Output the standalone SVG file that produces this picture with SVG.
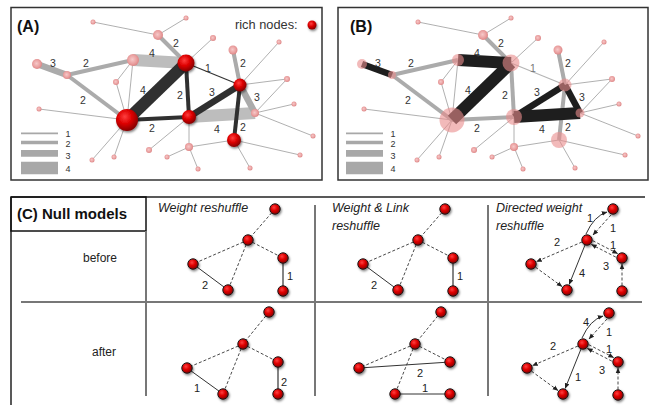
<svg xmlns="http://www.w3.org/2000/svg" width="652" height="405" viewBox="0 0 652 405">
<defs>
<style>
text{font-family:"Liberation Sans",Arial,sans-serif;fill:#333}
.ttl{font-size:16px;font-weight:bold;fill:#111}
.lbl{font-size:10.5px;text-anchor:middle}
.llbl{font-size:9px;text-anchor:middle}
.clbl{font-size:11px;text-anchor:middle;fill:#222}
.hdr{font-size:12.5px;font-style:italic;fill:#222}
.row{font-size:12px;fill:#222}
.box{fill:none;stroke:#333;stroke-width:1.5}
.grid{stroke:#777;stroke-width:2;fill:none}
.thin{stroke:#9c9c9c;stroke-width:0.8}
.gw2{stroke:#ababab;stroke-width:4}
.gw3{stroke:#ababab;stroke-width:6.5}
.gw4{stroke:#bdbdbd;stroke-width:12}
.dw1{stroke:#333;stroke-width:1.2}
.dw2{stroke:#303030;stroke-width:4}
.dw3{stroke:#303030;stroke-width:6.5}
.dw4{stroke:#303030;stroke-width:12}
.bw1{stroke:#b5b5b5;stroke-width:1.2}
.bd2{stroke:#1e1e1e;stroke-width:4}
.bd3{stroke:#1e1e1e;stroke-width:6.5}
.bd4{stroke:#1e1e1e;stroke-width:12}
.rich{fill:url(#red);filter:url(#sh)}
.pink{fill:url(#pk)}
.bpink{fill:#e98c8c;opacity:0.6}
.cn{fill:url(#red);stroke:#1a1a1a;stroke-width:1;filter:url(#sh)}
.ds{stroke:#333;stroke-width:0.9;stroke-dasharray:3,2;fill:none}
.sl{stroke:#333;stroke-width:1;fill:none}
.slg{stroke:#666;stroke-width:1.6;fill:none}
.leg{stroke:#a8a8a8}
</style>
<radialGradient id="red" cx="0.4" cy="0.35" r="0.65">
<stop offset="0" stop-color="#ff4040"/>
<stop offset="0.5" stop-color="#dd0000"/>
<stop offset="1" stop-color="#860000"/>
</radialGradient>
<radialGradient id="pk" cx="0.45" cy="0.45" r="0.6">
<stop offset="0" stop-color="#f6c9c9"/>
<stop offset="0.6" stop-color="#eaa0a0"/>
<stop offset="1" stop-color="#d98080"/>
</radialGradient>
<filter id="sh" x="-50%" y="-50%" width="200%" height="200%">
<feDropShadow dx="1" dy="1.5" stdDeviation="1.3" flood-color="#000" flood-opacity="0.5"/>
</filter>
<marker id="arr" viewBox="0 0 8 8" refX="7.5" refY="4" markerWidth="5.5" markerHeight="5.5" orient="auto" markerUnits="userSpaceOnUse">
<path d="M0,0.6 L8,4 L0,7.4 z" fill="#222"/>
</marker>
</defs>
<rect width="652" height="405" fill="#fff"/>

<!-- PANEL A -->
<g id="panelA">
<rect class="box" x="11" y="7.5" width="311" height="172.5"/>
<text class="ttl" x="17" y="32">(A)</text>
<text x="235" y="29" style="font-size:12.8px">rich nodes:</text>
<g id="legend-rich"><circle class="rich" cx="312" cy="25" r="4.5"/></g>
<g id="legendA">
<line class="leg" x1="21" y1="133.3" x2="58" y2="133.3" stroke-width="1.7"/>
<line class="leg" x1="21" y1="142.5" x2="58" y2="142.5" stroke-width="3.7"/>
<line class="leg" x1="21" y1="153.3" x2="58" y2="153.3" stroke-width="6.7"/>
<line class="leg" x1="21" y1="168" x2="58" y2="168" stroke-width="12.6"/>
<text class="llbl" x="68" y="136.5">1</text>
<text class="llbl" x="68" y="147">2</text>
<text class="llbl" x="68" y="159">3</text>
<text class="llbl" x="68" y="172">4</text>
</g>
<g id="connectorsA">
<line class="thin" x1="93" y1="22" x2="158" y2="35"/>
<line class="thin" x1="186" y1="18" x2="158" y2="35"/>
<line class="thin" x1="213" y1="38" x2="186" y2="63"/>
<line class="thin" x1="133" y1="60" x2="116" y2="82"/>
<line class="thin" x1="116" y1="82" x2="127" y2="120"/>
<line class="thin" x1="133" y1="60" x2="127" y2="120"/>
<line class="thin" x1="39" y1="109" x2="127" y2="120"/>
<line class="thin" x1="127" y1="120" x2="92" y2="160"/>
<line class="thin" x1="127" y1="120" x2="114" y2="157"/>
<line class="thin" x1="149" y1="150" x2="189" y2="117"/>
<line class="thin" x1="189" y1="117" x2="189" y2="147"/>
<line class="thin" x1="189" y1="147" x2="234" y2="140"/>
<line class="thin" x1="189" y1="147" x2="167" y2="157"/>
<line class="thin" x1="189" y1="147" x2="198" y2="169"/>
<line class="thin" x1="234" y1="140" x2="300" y2="155"/>
<line class="thin" x1="234" y1="140" x2="250" y2="168"/>
<line class="thin" x1="255" y1="113" x2="294" y2="104"/>
<line class="thin" x1="255" y1="113" x2="313" y2="136"/>
<line class="thin" x1="255" y1="113" x2="287" y2="79"/>
<line class="thin" x1="240" y1="85" x2="287" y2="79"/>
<line class="thin" x1="240" y1="85" x2="279" y2="42"/>
<line class="gw4" x1="133" y1="60" x2="186" y2="63"/>
<line class="gw4" x1="189" y1="117" x2="255" y2="113"/>
<line class="gw3" x1="37" y1="64" x2="67" y2="75"/>
<line class="gw2" x1="67" y1="75" x2="133" y2="60"/>
<line class="gw2" x1="67" y1="75" x2="127" y2="120"/>
<line class="gw2" x1="158" y1="35" x2="186" y2="63"/>
<line class="gw2" x1="233" y1="50" x2="240" y2="85"/>
<line class="gw3" x1="240" y1="85" x2="255" y2="113"/>
<line class="dw4" x1="127" y1="120" x2="186" y2="63"/>
<line class="dw2" x1="186" y1="63" x2="189" y2="117"/>
<line class="dw1" x1="186" y1="63" x2="240" y2="85"/>
<line class="dw3" x1="189" y1="117" x2="240" y2="85"/>
<line class="dw2" x1="127" y1="120" x2="189" y2="117"/>
<line class="dw2" x1="240" y1="85" x2="234" y2="140"/>
<text class="lbl" x="53" y="67">3</text>
<text class="lbl" x="86" y="67">2</text>
<text class="lbl" x="83" y="104">2</text>
<text class="lbl" x="152" y="57">4</text>
<text class="lbl" x="176" y="47">2</text>
<text class="lbl" x="143" y="94">4</text>
<text class="lbl" x="180" y="99">2</text>
<text class="lbl" x="208" y="72">1</text>
<text class="lbl" x="212" y="96">3</text>
<text class="lbl" x="152" y="132">2</text>
<text class="lbl" x="243" y="67">2</text>
<text class="lbl" x="257" y="101">3</text>
<text class="lbl" x="217" y="133">4</text>
<text class="lbl" x="243" y="131">2</text>
</g>
<g id="a-p1"><circle class="pink" cx="37" cy="64" r="5"/></g>
<g id="a-p2"><circle class="pink" cx="67" cy="75" r="4"/></g>
<g id="a-p3"><circle class="pink" cx="133" cy="60" r="6"/></g>
<g id="a-p4"><circle class="pink" cx="158" cy="35" r="5"/></g>
<g id="a-p5"><circle class="pink" cx="93" cy="22" r="2.5"/></g>
<g id="a-p6"><circle class="pink" cx="116" cy="82" r="3"/></g>
<g id="a-p7"><circle class="pink" cx="186" cy="18" r="2.5"/></g>
<g id="a-p8"><circle class="pink" cx="213" cy="38" r="3"/></g>
<g id="a-p9"><circle class="pink" cx="233" cy="50" r="4.5"/></g>
<g id="a-p10"><circle class="pink" cx="279" cy="42" r="2.5"/></g>
<g id="a-p11"><circle class="pink" cx="287" cy="79" r="3"/></g>
<g id="a-p12"><circle class="pink" cx="255" cy="113" r="4"/></g>
<g id="a-p13"><circle class="pink" cx="294" cy="104" r="2.5"/></g>
<g id="a-p14"><circle class="pink" cx="313" cy="136" r="2.5"/></g>
<g id="a-p15"><circle class="pink" cx="300" cy="155" r="2.5"/></g>
<g id="a-p16"><circle class="pink" cx="250" cy="168" r="2.5"/></g>
<g id="a-p17"><circle class="pink" cx="189" cy="147" r="4"/></g>
<g id="a-p18"><circle class="pink" cx="167" cy="157" r="2.5"/></g>
<g id="a-p19"><circle class="pink" cx="198" cy="169" r="2.5"/></g>
<g id="a-p20"><circle class="pink" cx="149" cy="150" r="3"/></g>
<g id="a-p21"><circle class="pink" cx="114" cy="157" r="2.5"/></g>
<g id="a-p22"><circle class="pink" cx="92" cy="160" r="2.5"/></g>
<g id="a-p23"><circle class="pink" cx="39" cy="109" r="2.5"/></g>
<g id="a-r0"><circle class="rich" cx="127" cy="120" r="11"/></g>
<g id="a-r1"><circle class="rich" cx="186" cy="63" r="8.5"/></g>
<g id="a-r2"><circle class="rich" cx="240" cy="85" r="6.5"/></g>
<g id="a-r3"><circle class="rich" cx="189" cy="117" r="7"/></g>
<g id="a-r4"><circle class="rich" cx="234" cy="140" r="7"/></g>
</g>

<!-- PANEL B -->
<g id="panelB">
<rect class="box" x="338" y="7.5" width="310" height="172.5"/>
<text class="ttl" x="350" y="32">(B)</text>
<g id="legendB">
<line class="leg" x1="346" y1="133.3" x2="383" y2="133.3" stroke-width="1.7"/>
<line class="leg" x1="346" y1="142.5" x2="383" y2="142.5" stroke-width="3.7"/>
<line class="leg" x1="346" y1="153.3" x2="383" y2="153.3" stroke-width="6.7"/>
<line class="leg" x1="346" y1="168" x2="383" y2="168" stroke-width="12.6"/>
<text class="llbl" x="393" y="136.5">1</text>
<text class="llbl" x="393" y="147">2</text>
<text class="llbl" x="393" y="159">3</text>
<text class="llbl" x="393" y="172">4</text>
</g>
<g transform="translate(325,0)">
<g id="connectorsB">
<line class="thin" x1="93" y1="22" x2="158" y2="35"/>
<line class="thin" x1="186" y1="18" x2="158" y2="35"/>
<line class="thin" x1="213" y1="38" x2="186" y2="63"/>
<line class="thin" x1="133" y1="60" x2="116" y2="82"/>
<line class="thin" x1="116" y1="82" x2="127" y2="120"/>
<line class="thin" x1="133" y1="60" x2="127" y2="120"/>
<line class="thin" x1="39" y1="109" x2="127" y2="120"/>
<line class="thin" x1="127" y1="120" x2="92" y2="160"/>
<line class="thin" x1="127" y1="120" x2="114" y2="157"/>
<line class="thin" x1="149" y1="150" x2="189" y2="117"/>
<line class="thin" x1="189" y1="117" x2="189" y2="147"/>
<line class="thin" x1="189" y1="147" x2="234" y2="140"/>
<line class="thin" x1="189" y1="147" x2="167" y2="157"/>
<line class="thin" x1="189" y1="147" x2="198" y2="169"/>
<line class="thin" x1="234" y1="140" x2="300" y2="155"/>
<line class="thin" x1="234" y1="140" x2="250" y2="168"/>
<line class="thin" x1="255" y1="113" x2="294" y2="104"/>
<line class="thin" x1="255" y1="113" x2="313" y2="136"/>
<line class="thin" x1="255" y1="113" x2="287" y2="79"/>
<line class="thin" x1="240" y1="85" x2="287" y2="79"/>
<line class="thin" x1="240" y1="85" x2="279" y2="42"/>
<line class="gw2" x1="67" y1="75" x2="133" y2="60"/>
<line class="gw2" x1="67" y1="75" x2="127" y2="120"/>
<line class="gw2" x1="158" y1="35" x2="186" y2="63"/>
<line class="gw2" x1="233" y1="50" x2="240" y2="85"/>
<line class="gw2" x1="186" y1="63" x2="189" y2="117"/>
<line class="gw2" x1="127" y1="120" x2="189" y2="117"/>
<line class="gw2" x1="240" y1="85" x2="234" y2="140"/>
<line class="bw1" x1="186" y1="63" x2="240" y2="85"/>
<line class="bd3" x1="37" y1="64" x2="67" y2="75"/>
<line class="bd4" x1="133" y1="60" x2="186" y2="63"/>
<line class="bd4" x1="127" y1="120" x2="186" y2="63"/>
<line class="bd3" x1="189" y1="117" x2="240" y2="85"/>
<line class="bd3" x1="240" y1="85" x2="255" y2="113"/>
<line class="bd4" x1="189" y1="117" x2="255" y2="113"/>
<text class="lbl" x="53" y="67">3</text>
<text class="lbl" x="86" y="67">2</text>
<text class="lbl" x="83" y="104">2</text>
<text class="lbl" x="152" y="57">4</text>
<text class="lbl" x="176" y="47">2</text>
<text class="lbl" x="143" y="94">4</text>
<text class="lbl" x="180" y="99">2</text>
<text class="lbl" x="208" y="72" style="fill:#777">1</text>
<text class="lbl" x="212" y="96">3</text>
<text class="lbl" x="152" y="132">2</text>
<text class="lbl" x="243" y="67">2</text>
<text class="lbl" x="257" y="101">3</text>
<text class="lbl" x="217" y="133">4</text>
<text class="lbl" x="243" y="131">2</text>
</g>
<g id="b-p1"><circle class="bpink" cx="37" cy="64" r="5"/></g>
<g id="b-p2"><circle class="bpink" cx="67" cy="75" r="4"/></g>
<g id="b-p3"><circle class="bpink" cx="133" cy="60" r="6"/></g>
<g id="b-p4"><circle class="pink" cx="158" cy="35" r="5"/></g>
<g id="b-p5"><circle class="pink" cx="93" cy="22" r="2.5"/></g>
<g id="b-p6"><circle class="pink" cx="116" cy="82" r="3"/></g>
<g id="b-p7"><circle class="pink" cx="186" cy="18" r="2.5"/></g>
<g id="b-p8"><circle class="pink" cx="213" cy="38" r="3"/></g>
<g id="b-p9"><circle class="pink" cx="233" cy="50" r="4.5"/></g>
<g id="b-p10"><circle class="pink" cx="279" cy="42" r="2.5"/></g>
<g id="b-p11"><circle class="pink" cx="287" cy="79" r="3"/></g>
<g id="b-p12"><circle class="bpink" cx="255" cy="113" r="4.5"/></g>
<g id="b-p13"><circle class="pink" cx="294" cy="104" r="2.5"/></g>
<g id="b-p14"><circle class="pink" cx="313" cy="136" r="2.5"/></g>
<g id="b-p15"><circle class="pink" cx="300" cy="155" r="2.5"/></g>
<g id="b-p16"><circle class="pink" cx="250" cy="168" r="2.5"/></g>
<g id="b-p17"><circle class="pink" cx="189" cy="147" r="4"/></g>
<g id="b-p18"><circle class="pink" cx="167" cy="157" r="2.5"/></g>
<g id="b-p19"><circle class="pink" cx="198" cy="169" r="2.5"/></g>
<g id="b-p20"><circle class="pink" cx="149" cy="150" r="3"/></g>
<g id="b-p21"><circle class="pink" cx="114" cy="157" r="2.5"/></g>
<g id="b-p22"><circle class="pink" cx="92" cy="160" r="2.5"/></g>
<g id="b-p23"><circle class="pink" cx="39" cy="109" r="2.5"/></g>
<g id="b-r0"><circle class="bpink" cx="127" cy="120" r="12.5"/></g>
<g id="b-r1"><circle class="bpink" cx="186" cy="63" r="8.5"/></g>
<g id="b-r2"><circle class="bpink" cx="240" cy="85" r="6.5"/></g>
<g id="b-r3"><circle class="bpink" cx="189" cy="117" r="8"/></g>
<g id="b-r4"><circle class="bpink" cx="234" cy="140" r="8"/></g>
</g>
</g>

<!-- PANEL C -->
<g id="panelC">
<line x1="11" y1="197" x2="645" y2="197" stroke="#222" stroke-width="1.5"/>
<line x1="11" y1="197" x2="11" y2="405" stroke="#222" stroke-width="1.5"/>
<rect class="box" x="11" y="197" width="135" height="34" style="stroke:#111"/>
<text class="ttl" x="17" y="219" style="font-size:15px">(C) Null models</text>
<line class="grid" x1="146" y1="231" x2="146" y2="396"/>
<line class="grid" x1="315" y1="205" x2="315" y2="396"/>
<line class="grid" x1="488" y1="205" x2="488" y2="396"/>
<line class="grid" x1="21" y1="302" x2="642" y2="302"/>
<text class="row" x="83" y="262">before</text>
<text class="row" x="92" y="356">after</text>
<text class="hdr" x="158" y="212">Weight reshuffle</text>
<text class="hdr" x="332" y="212">Weight &amp; Link</text>
<text class="hdr" x="332" y="230">reshuffle</text>
<text class="hdr" x="496" y="212">Directed weight</text>
<text class="hdr" x="496" y="230">reshuffle</text>

<!-- column 1 before -->
<g id="c1b-edges">
<line class="ds" x1="275" y1="209" x2="248" y2="240"/>
<line class="ds" x1="248" y1="240" x2="193" y2="264"/>
<line class="ds" x1="248" y1="240" x2="228" y2="290"/>
<line class="ds" x1="248" y1="240" x2="283" y2="258"/>
<line class="sl" x1="193" y1="264" x2="228" y2="290"/>
<line class="slg" x1="283" y1="258" x2="283" y2="291"/>
<text class="clbl" x="205" y="289">2</text>
<text class="clbl" x="290" y="280">1</text>
</g>
<g id="c1b-n1"><circle class="cn" cx="275" cy="209" r="5.2"/></g>
<g id="c1b-n2"><circle class="cn" cx="248" cy="240" r="5.2"/></g>
<g id="c1b-n3"><circle class="cn" cx="193" cy="264" r="5.2"/></g>
<g id="c1b-n4"><circle class="cn" cx="228" cy="290" r="5.2"/></g>
<g id="c1b-n5"><circle class="cn" cx="283" cy="258" r="5.2"/></g>
<g id="c1b-n6"><circle class="cn" cx="283" cy="291" r="5.2"/></g>

<!-- column 2 before -->
<g id="c2b-edges">
<line class="ds" x1="445" y1="209" x2="418" y2="240"/>
<line class="ds" x1="418" y1="240" x2="363" y2="264"/>
<line class="ds" x1="418" y1="240" x2="398" y2="290"/>
<line class="ds" x1="418" y1="240" x2="453" y2="258"/>
<line class="sl" x1="363" y1="264" x2="398" y2="290"/>
<line class="slg" x1="453" y1="258" x2="453" y2="291"/>
<text class="clbl" x="374" y="289">2</text>
<text class="clbl" x="460" y="280">1</text>
</g>
<g id="c2b-n1"><circle class="cn" cx="445" cy="209" r="5.2"/></g>
<g id="c2b-n2"><circle class="cn" cx="418" cy="240" r="5.2"/></g>
<g id="c2b-n3"><circle class="cn" cx="363" cy="264" r="5.2"/></g>
<g id="c2b-n4"><circle class="cn" cx="398" cy="290" r="5.2"/></g>
<g id="c2b-n5"><circle class="cn" cx="453" cy="258" r="5.2"/></g>
<g id="c2b-n6"><circle class="cn" cx="453" cy="291" r="5.2"/></g>

<!-- column 3 before -->
<g id="c3b-edges">
<path class="sl" d="M586,234 Q594,216 607,212" marker-end="url(#arr)"/>
<line class="ds" x1="611" y1="215" x2="593" y2="235" marker-end="url(#arr)"/>
<line class="ds" x1="582" y1="242" x2="536.5" y2="261.6" marker-end="url(#arr)"/>
<line class="ds" x1="535.5" y1="267.2" x2="562" y2="286.5" marker-end="url(#arr)"/>
<line class="sl" x1="585" y1="245" x2="569.2" y2="284.4" marker-end="url(#arr)"/>
<line class="ds" x1="592.8" y1="240.7" x2="617.6" y2="253.5" marker-end="url(#arr)"/>
<line class="ds" x1="615.8" y1="257.1" x2="591.4" y2="244.5" marker-end="url(#arr)"/>
<line class="ds" x1="622" y1="285.5" x2="622" y2="264" marker-end="url(#arr)"/>
<text class="clbl" x="590" y="222">1</text>
<text class="clbl" x="613" y="232">1</text>
<text class="clbl" x="557" y="246">2</text>
<text class="clbl" x="582" y="277">4</text>
<text class="clbl" x="613" y="249">1</text>
<text class="clbl" x="606" y="270">3</text>
</g>
<g id="c3b-n1"><circle class="cn" cx="613" cy="209" r="5.2"/></g>
<g id="c3b-n2"><circle class="cn" cx="587" cy="240" r="5.2"/></g>
<g id="c3b-n3"><circle class="cn" cx="531" cy="264" r="5.2"/></g>
<g id="c3b-n4"><circle class="cn" cx="567" cy="290" r="5.2"/></g>
<g id="c3b-n5"><circle class="cn" cx="622" cy="258" r="5.2"/></g>
<g id="c3b-n6"><circle class="cn" cx="622" cy="291" r="5.2"/></g>

<!-- column 1 after -->
<g id="c1a-edges">
<line class="ds" x1="269" y1="312" x2="243" y2="344"/>
<line class="ds" x1="243" y1="344" x2="187" y2="368"/>
<line class="ds" x1="243" y1="344" x2="223" y2="394"/>
<line class="ds" x1="243" y1="344" x2="278" y2="362"/>
<line class="sl" x1="187" y1="368" x2="223" y2="394"/>
<line class="slg" x1="278" y1="362" x2="278" y2="394"/>
<text class="clbl" x="197" y="392">1</text>
<text class="clbl" x="284" y="386">2</text>
</g>
<g id="c1a-n1"><circle class="cn" cx="269" cy="312" r="5.2"/></g>
<g id="c1a-n2"><circle class="cn" cx="243" cy="344" r="5.2"/></g>
<g id="c1a-n3"><circle class="cn" cx="187" cy="368" r="5.2"/></g>
<g id="c1a-n4"><circle class="cn" cx="223" cy="394" r="5.2"/></g>
<g id="c1a-n5"><circle class="cn" cx="278" cy="362" r="5.2"/></g>
<g id="c1a-n6"><circle class="cn" cx="278" cy="394" r="5.2"/></g>

<!-- column 2 after -->
<g id="c2a-edges">
<line class="ds" x1="441" y1="312" x2="415" y2="344"/>
<line class="ds" x1="415" y1="344" x2="359" y2="368"/>
<line class="ds" x1="415" y1="344" x2="395" y2="394"/>
<line class="ds" x1="415" y1="344" x2="450" y2="362"/>
<line class="sl" x1="359" y1="368" x2="450" y2="362"/>
<line class="sl" x1="395" y1="394" x2="450" y2="394"/>
<text class="clbl" x="420" y="377">2</text>
<text class="clbl" x="425" y="392">1</text>
</g>
<g id="c2a-n1"><circle class="cn" cx="441" cy="312" r="5.2"/></g>
<g id="c2a-n2"><circle class="cn" cx="415" cy="344" r="5.2"/></g>
<g id="c2a-n3"><circle class="cn" cx="359" cy="368" r="5.2"/></g>
<g id="c2a-n4"><circle class="cn" cx="395" cy="394" r="5.2"/></g>
<g id="c2a-n5"><circle class="cn" cx="450" cy="362" r="5.2"/></g>
<g id="c2a-n6"><circle class="cn" cx="450" cy="394" r="5.2"/></g>

<!-- column 3 after -->
<g id="c3a-edges" transform="translate(-4,104)">
<path class="sl" d="M586,234 Q594,216 607,212" marker-end="url(#arr)"/>
<line class="ds" x1="611" y1="215" x2="593" y2="235" marker-end="url(#arr)"/>
<line class="ds" x1="582" y1="242" x2="536.5" y2="261.6" marker-end="url(#arr)"/>
<line class="ds" x1="535.5" y1="267.2" x2="562" y2="286.5" marker-end="url(#arr)"/>
<line class="sl" x1="585" y1="245" x2="569.2" y2="284.4" marker-end="url(#arr)"/>
<line class="ds" x1="592.8" y1="240.7" x2="617.6" y2="253.5" marker-end="url(#arr)"/>
<line class="ds" x1="615.8" y1="257.1" x2="591.4" y2="244.5" marker-end="url(#arr)"/>
<line class="ds" x1="622" y1="285.5" x2="622" y2="264" marker-end="url(#arr)"/>
<text class="clbl" x="590" y="222">4</text>
<text class="clbl" x="613" y="232">1</text>
<text class="clbl" x="557" y="246">2</text>
<text class="clbl" x="582" y="277">1</text>
<text class="clbl" x="613" y="249">1</text>
<text class="clbl" x="606" y="270">3</text>
</g>
<g id="c3a-n1"><circle class="cn" cx="609" cy="313" r="5.2"/></g>
<g id="c3a-n2"><circle class="cn" cx="583" cy="344" r="5.2"/></g>
<g id="c3a-n3"><circle class="cn" cx="527" cy="368" r="5.2"/></g>
<g id="c3a-n4"><circle class="cn" cx="563" cy="394" r="5.2"/></g>
<g id="c3a-n5"><circle class="cn" cx="618" cy="362" r="5.2"/></g>
<g id="c3a-n6"><circle class="cn" cx="618" cy="395" r="5.2"/></g>
</g>
</svg>
